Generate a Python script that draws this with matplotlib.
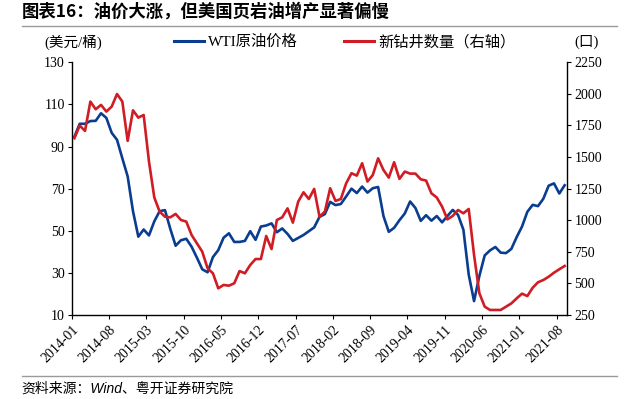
import matplotlib
matplotlib.use('Agg')
import matplotlib.pyplot as plt
from matplotlib.lines import Line2D
import numpy as np

plt.rcParams['font.family'] = ['Liberation Serif', 'Noto Sans CJK SC', 'DejaVu Sans']

tick_labels = ['2014-01', '2014-08', '2015-03', '2015-10', '2016-05', '2016-12',
               '2017-07', '2018-02', '2018-09', '2019-04', '2019-11', '2020-06',
               '2021-01', '2021-08']

wti = [94.6, 100.8, 100.8, 102.1, 102.2, 105.8, 103.6, 96.5, 93.2, 84.4, 75.8, 59.3,
       47.2, 50.6, 47.8, 54.5, 59.3, 59.8, 50.9, 42.9, 45.5, 46.2, 42.4, 37.2,
       31.7, 30.3, 37.5, 40.8, 46.7, 48.8, 44.7, 44.7, 45.2, 49.8, 45.7, 52.0,
       52.5, 53.5, 49.3, 51.1, 48.5, 45.2, 46.6, 48.0, 49.8, 51.6, 56.6, 57.9,
       63.7, 62.2, 62.7, 66.3, 70.0, 67.9, 71.0, 68.1, 70.2, 70.8, 57.0, 49.5,
       51.4, 55.0, 58.2, 63.9, 60.8, 54.7, 57.4, 54.8, 57.0, 54.0, 57.0, 59.9,
       57.5, 50.5, 29.2, 16.6, 28.6, 38.3, 40.7, 42.3, 39.6, 39.4, 41.4, 47.0,
       52.0, 59.0, 62.3, 61.7, 65.2, 71.4, 72.5, 67.7, 71.6]

wells = [1649, 1749, 1707, 1939, 1878, 1913, 1860, 1899, 1999, 1939, 1628, 1870,
         1812, 1833, 1464, 1180, 1068, 1028, 1023, 1050, 1002, 989, 883, 817,
         751, 619, 580, 461, 488, 482, 501, 598, 580, 646, 693, 693,
         875, 772, 1002, 1023, 1094, 981, 1147, 1221, 1168, 1248, 1028, 1068,
         1253, 1153, 1168, 1292, 1372, 1353, 1451, 1306, 1358, 1490, 1398, 1337,
         1459, 1327, 1385, 1369, 1369, 1324, 1314, 1213, 1180, 1108, 1007, 1034,
         1081, 1055, 1089, 725, 422, 316, 290, 290, 290, 316, 342, 382,
         419, 400, 466, 509, 527, 553, 585, 612, 638]

blue = '#0A3D8F'
red = '#D01C24'

fig = plt.figure(figsize=(6.38, 3.99), dpi=100)
ax = fig.add_axes([0.1124, 0.2105, 0.7768, 0.6334])
ax2 = ax.twinx()

x = np.arange(len(wti)) + 0.5
ax.plot(x, wti, color=blue, lw=1.9, solid_joinstyle='round')
ax2.plot(x, wells, color=red, lw=1.9, solid_joinstyle='round')

ax.set_xlim(0, len(wti))
ax.set_ylim(10, 130)
ax.set_yticks(np.arange(10, 131, 20))
ax2.set_ylim(250, 2250)
ax2.set_yticks(np.arange(250, 2251, 250))

ax.set_xticks(np.arange(0, len(wti), 7))
ax.set_xticklabels(tick_labels, rotation=45, ha='right', va='top',
                   rotation_mode='anchor', fontsize=10)

for a in (ax, ax2):
    a.spines['top'].set_visible(False)
    for s in a.spines.values():
        s.set_linewidth(1.0)
        s.set_color('black')
ax.spines['right'].set_visible(False)
ax2.spines['left'].set_visible(False)
ax2.spines['bottom'].set_visible(False)

ax.tick_params(axis='y', direction='out', length=3, labelsize=10, pad=2)
ax.tick_params(axis='x', direction='out', length=3, pad=3)
ax2.tick_params(axis='y', direction='out', length=3, labelsize=10, pad=2)

# title and decorations
fig.text(0.034, 0.97, '图表16：油价大涨，但美国页岩油增产显著偏慢',
         fontsize=12.5, fontweight='bold', family=['Noto Sans CJK SC', 'DejaVu Sans'],
         ha='left', va='center')
fig.add_artist(Line2D([0.034, 0.967], [0.935, 0.935], color='#9A9A9A', lw=1.0))
fig.add_artist(Line2D([0.034, 0.967], [0.057, 0.057], color='#9A9A9A', lw=1.0))
fig.text(0.034, 0.025, '资料来源：Wind、粤开证券研究院', fontsize=10, style='italic',
         family=['Liberation Sans', 'Noto Sans CJK SC'], ha='left', va='center')

fig.text(0.07, 0.895, '(美元/桶)', fontsize=10.5, ha='left', va='center')
fig.text(0.90, 0.895, '(口)', fontsize=10.5, ha='left', va='center')

handles = [Line2D([], [], color=blue, lw=2.2), Line2D([], [], color=red, lw=2.2)]
fig.legend(handles, ['WTI原油价格', '新钻井数量（右轴）'], loc='center',
           bbox_to_anchor=(0.54, 0.895), ncol=2, frameon=False, fontsize=11,
           handlelength=2.0, handletextpad=0.25, columnspacing=3.0)

fig.savefig('out.png', dpi=100)
